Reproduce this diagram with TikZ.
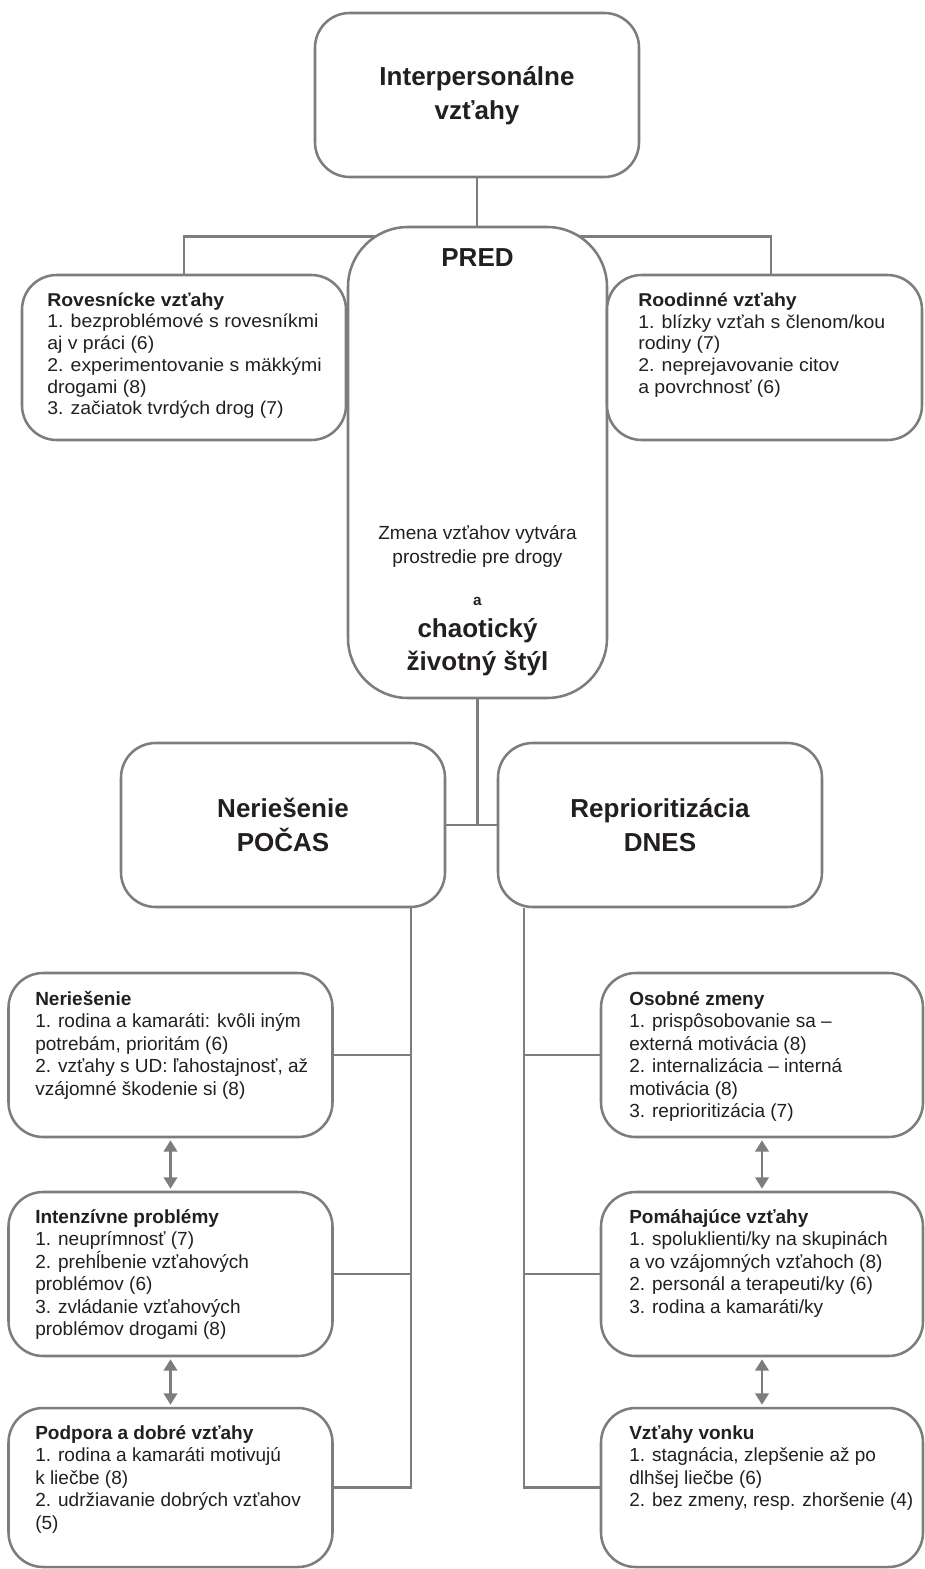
\documentclass[tikz,border=0pt]{standalone}
\usepackage{fontspec}
\setmainfont{Liberation Sans}
\newfontfamily\upfont{Liberation Sans}[FakeStretch=1.05]
\usetikzlibrary{arrows.meta}
\definecolor{lineg}{HTML}{7D7D7D}
\definecolor{txt}{HTML}{231F20}
\pgfdeclarelayer{bg}
\pgfsetlayers{bg,main}
\newcommand{\fs}{\rule{0pt}{13.5pt}}
\begin{document}
\begin{tikzpicture}[x=0.75pt,y=-0.75pt,
 conn/.style={draw=lineg,line width=2pt},
 box/.style={draw=lineg,line width=1.9pt,fill=white,rounded corners=26pt,inner sep=0pt,minimum width=243pt},
 title/.style={text=txt,font={\fontsize{19.5pt}{25.5pt}\selectfont\bfseries},align=center,inner sep=0pt},
 body/.style={text=txt,font={\fontsize{14.25pt}{16.9pt}\selectfont},align=left,inner sep=0pt,anchor=north west},
 upbody/.style={text=txt,font={\upfont\fontsize{13.9pt}{16.3pt}\selectfont},align=left,inner sep=0pt,anchor=north west},
 arr/.style={draw=lineg,line width=2pt,{Triangle[width=10pt,length=8.5pt]}-{Triangle[width=10pt,length=8.5pt]},shorten >=1.5pt,shorten <=1.5pt}
]
\useasboundingbox (0,0) rectangle (924,1569);
% boxes
\node[box,minimum height=123pt] (top) at (477,95) {};
\node[box,minimum width=194.25pt,minimum height=353.25pt,rounded corners=45pt] (pred) at (477.5,462.5) {};
\node[box,minimum height=123.75pt] (rov) at (184,357.5) {};
\node[box,minimum width=236.25pt,minimum height=123.75pt] (rood) at (764.5,357.5) {};
\node[box,minimum height=123pt] (pocas) at (283,825) {};
\node[box,minimum height=123pt] (dnes) at (660,825) {};
\node[box,minimum height=123pt] (l1) at (170.5,1055) {};
\node[box,minimum height=123pt] (l2) at (170.5,1274) {};
\node[box,minimum height=119.25pt] (l3) at (170.5,1487.5) {};
\node[box,minimum width=241.5pt,minimum height=123pt] (r1) at (762,1055) {};
\node[box,minimum width=241.5pt,minimum height=123pt] (r2) at (762,1274) {};
\node[box,minimum width=241.5pt,minimum height=119.25pt] (r3) at (762,1487.5) {};
% connectors
\coordinate (ltx) at (411,0);
\coordinate (rtx) at (524,0);
\coordinate (rdx) at (771,0);
\begin{pgfonlayer}{bg}
\draw[conn] (rov.north) -- ++(0,-37) coordinate (bl) -| (rood.north -| rdx);
\draw[conn] (top.south) -- (top.south |- bl);
\draw[conn] (pred.south) -- (pred.south |- pocas.east);
\draw[conn] (pocas.east) -- (dnes.west);
\draw[conn] (pocas.south -| ltx) |- (l3.east);
\draw[conn] (l1.east) -- (l1.east -| ltx);
\draw[conn] (l2.east) -- (l2.east -| ltx);
\draw[conn] (dnes.south -| rtx) |- (r3.west);
\draw[conn] (r1.west) -- (r1.west -| rtx);
\draw[conn] (r2.west) -- (r2.west -| rtx);
\end{pgfonlayer}
\draw[arr] (l1.south) -- (l2.north);
\draw[arr] (l2.south) -- (l3.north);
\draw[arr] (r1.south) -- (r2.north);
\draw[arr] (r2.south) -- (r3.north);
% texts
\node[title] (t0) at (477,96) {Interpersonálne\\vzťahy};
\node[title] (t1) at (477.5,258) {PRED};
\node[text=txt,font={\fontsize{14.25pt}{18pt}\selectfont},align=center,inner sep=0pt] (t2) at (477.5,546) {Zmena vzťahov vytvára\\prostredie pre drogy};
\node[text=txt,font={\fontsize{11.5pt}{14pt}\selectfont\bfseries},inner sep=0pt] (t3) at (477.5,601) {a};
\node[title,font={\fontsize{19.5pt}{24.75pt}\selectfont\bfseries}] (t4) at (477.5,647) {chaotický\\životný štýl};
\node[title] (t5) at (pocas.center) {Neriešenie\\POČAS};
\node[title] (t6) at (dnes.center) {Reprioritizácia\\DNES};
\node[upbody] (b1) at (47,288) {\fs\textbf{Rovesnícke vzťahy}\\1. bezproblémové s rovesníkmi\\aj v práci (6)\\2. experimentovanie s mäkkými\\drogami (8)\\3. začiatok tvrdých drog (7)};
\node[upbody] (b2) at (638,288) {\fs\textbf{Roodinné vzťahy}\\1. blízky vzťah s členom/kou\\rodiny (7)\\2. neprejavovanie citov\\a povrchnosť (6)};
\node[body] (b3) at (35,987) {\fs\textbf{Neriešenie}\\1. rodina a kamaráti: kvôli iným\\potrebám, prioritám (6)\\2. vzťahy s UD: ľahostajnosť, až\\vzájomné škodenie si (8)};
\node[body] (b4) at (35,1205) {\fs\textbf{Intenzívne problémy}\\1. neuprímnosť (7)\\2. prehĺbenie vzťahových\\problémov (6)\\3. zvládanie vzťahových\\problémov drogami (8)};
\node[body] (b5) at (35,1421) {\fs\textbf{Podpora a dobré vzťahy}\\1. rodina a kamaráti motivujú\\k liečbe (8)\\2. udržiavanie dobrých vzťahov\\(5)};
\node[body] (b6) at (629,987) {\fs\textbf{Osobné zmeny}\\1. prispôsobovanie sa –\\externá motivácia (8)\\2. internalizácia – interná\\motivácia (8)\\3. reprioritizácia (7)};
\node[body] (b7) at (629,1205) {\fs\textbf{Pomáhajúce vzťahy}\\1. spoluklienti/ky na skupinách\\a vo vzájomných vzťahoch (8)\\2. personál a terapeuti/ky (6)\\3. rodina a kamaráti/ky};
\node[body] (b8) at (629,1421) {\fs\textbf{Vzťahy vonku}\\1. stagnácia, zlepšenie až po\\dlhšej liečbe (6)\\2. bez zmeny, resp. zhoršenie (4)};
\end{tikzpicture}
\end{document}
